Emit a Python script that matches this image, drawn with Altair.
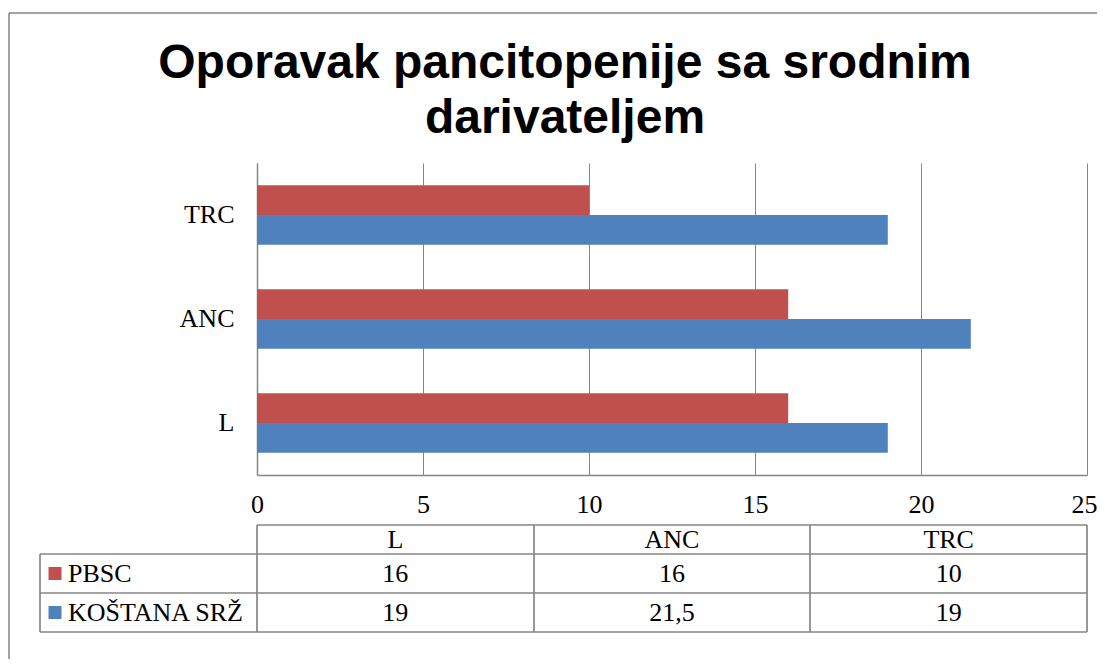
import altair as alt
import pandas as pd

# ---- data ----
categories = ["L", "ANC", "TRC"]
series = ["PBSC", "KOŠTANA SRŽ"]
pbsc = [16, 16, 10]
kostana = [19, 21.5, 19]
colors = ["#C0504D", "#4F81BD"]
x_ticks = [0, 5, 10, 15, 20, 25]
title_lines = ["Oporavak pancitopenije sa srodnim", "darivateljem"]

rows = []
for s, vals in zip(series, [pbsc, kostana]):
    for c, v in zip(categories, vals):
        rows.append({"category": c, "series": s, "value": v,
                     "label": f"{v:g}".replace(".", ",")})
df = pd.DataFrame(rows)
df_cat = pd.DataFrame({"category": categories})
df_ser = pd.DataFrame({"series": series})

# ---- layout / style ----
W, H = 830, 312
serif = "Liberation Serif"
sans = "Liberation Sans"
gray = "#868686"
FS = 26

color = alt.Color("series:N", scale=alt.Scale(domain=series, range=colors), legend=None)

bars = alt.Chart(df).mark_bar().encode(
    x=alt.X("value:Q", scale=alt.Scale(domain=[0, 25], nice=False, zero=True),
            axis=alt.Axis(values=x_ticks, grid=True, gridColor=gray, gridWidth=1,
                          domainColor=gray, domainWidth=1.5, ticks=False,
                          labelFont=serif, labelFontSize=FS, labelColor="black",
                          labelPadding=16, labelFlush=False, title=None,
                          labelOffset=alt.expr("datum.value == 25 ? -3 : 0"))),
    y=alt.Y("category:N", sort=["TRC", "ANC", "L"],
            scale=alt.Scale(paddingInner=0.43, paddingOuter=0.215),
            axis=alt.Axis(domainColor=gray, domainWidth=1.5, ticks=False,
                          labelFont=serif, labelFontSize=FS, labelColor="black",
                          labelPadding=23, title=None, grid=False)),
    yOffset=alt.YOffset("series:N", sort=series, scale=alt.Scale(paddingInner=0, paddingOuter=0)),
    color=color,
)

# ---- data table below ----
colx = alt.X("category:N", sort=categories,
             scale=alt.Scale(range=[0, W], paddingInner=0, paddingOuter=0), axis=None)
rowy = alt.Y("series:N", sort=series,
             scale=alt.Scale(domain=series, range=[391, 469], paddingInner=0, paddingOuter=0),
             axis=None)

header = alt.Chart(df_cat).mark_text(font=serif, fontSize=FS, baseline="middle",
                                     color="black").encode(
    x=colx, y=alt.value(377), text="category:N")

values = alt.Chart(df).mark_text(font=serif, fontSize=FS, baseline="middle",
                                 color="black").encode(
    x=colx, y=rowy, text="label:N")

leg_text = alt.Chart(df_ser).mark_text(font=serif, fontSize=FS, baseline="middle",
                                       align="left", color="black").encode(
    x=alt.value(-189), y=rowy, text="series:N")

leg_sq = alt.Chart(df_ser).mark_square(size=169, opacity=1).encode(
    x=alt.value(-202), y=rowy, color=color)

lines = pd.DataFrame({
    "x":  [0, -217, -217, -217, -217, 0, 277, 553, 830],
    "x2": [830, 830, 830, 830, -217, 0, 277, 553, 830],
    "y":  [362, 391, 430, 469, 391, 362, 362, 362, 362],
    "y2": [362, 391, 430, 469, 469, 469, 469, 469, 469],
})
table_rules = alt.Chart(lines).mark_rule(color=gray, strokeWidth=1.7).encode(
    x=alt.X("x:Q", scale=None), x2="x2:Q",
    y=alt.Y("y:Q", scale=None), y2="y2:Q")

# outer chart frame (only left and top edges fall inside the picture)
frame = pd.DataFrame({"x": [-248, -248], "x2": [870, -248],
                      "y": [-150, -150], "y2": [-150, 530]})
border = alt.Chart(frame).mark_rule(color=gray, strokeWidth=1.5).encode(
    x=alt.X("x:Q", scale=None), x2="x2:Q",
    y=alt.Y("y:Q", scale=None), y2="y2:Q")

title1 = alt.Chart(df_cat.head(1)).mark_text(
    font=sans, fontSize=48, fontWeight="bold", color="black", baseline="alphabetic",
    align="center", text=title_lines[0]).encode(x=alt.value(308), y=alt.value(-85))
title2 = alt.Chart(df_cat.head(1)).mark_text(
    font=sans, fontSize=48, fontWeight="bold", color="black", baseline="alphabetic",
    align="center", text=title_lines[1]).encode(x=alt.value(308), y=alt.value(-30))

table = alt.layer(table_rules, header, values, leg_sq, leg_text, border, title1, title2)

chart = alt.layer(bars, table).resolve_scale(x="independent", y="independent").properties(
    width=W, height=H,
    autosize=alt.AutoSizeParams(type="none"),
    padding={"left": 249, "top": 155, "right": 10, "bottom": 184},
    background="white",
).configure_view(stroke=None)

chart.save("out.html", embed_options={"renderer": "svg", "actions": False})
